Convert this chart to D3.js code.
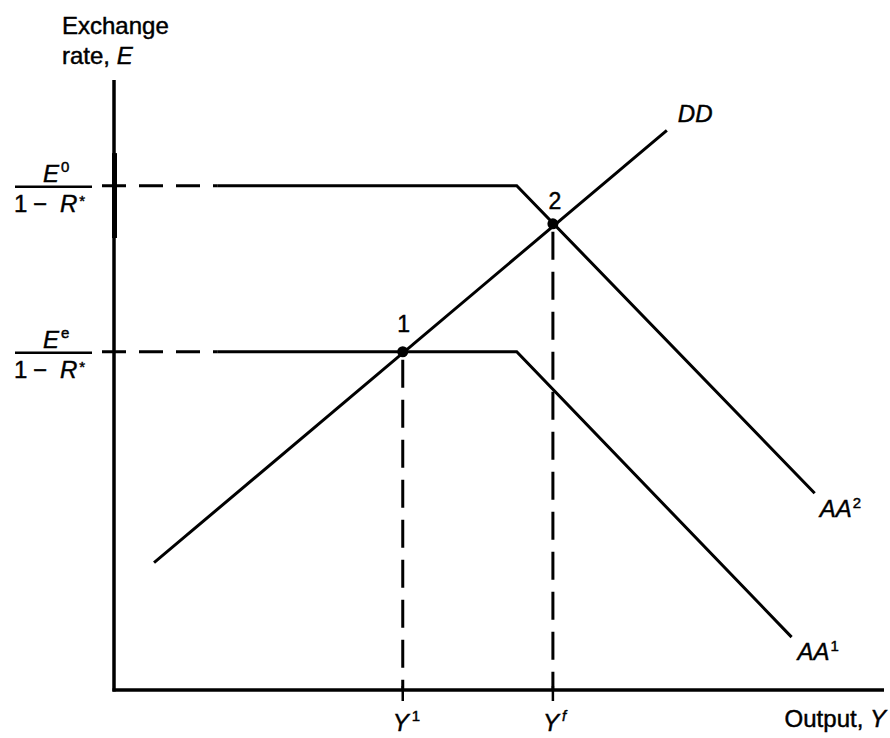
<!DOCTYPE html>
<html><head><meta charset="utf-8">
<script src="https://cdn.jsdelivr.net/npm/d3@7"></script>
<style>body{margin:0;background:#fff}svg{display:block}text{font-family:"Liberation Sans",Arial,sans-serif;fill:#000;stroke:#000;stroke-width:0.45px}</style>
</head><body>
<script>
// Data (abstract units: output on x, exchange rate on y)
const levels = [{name:"E0", sup:"0", value:82}, {name:"Ee", sup:"e", value:55}];
const outputMarks = [{name:"Y1", sup:"1", value:37.5}, {name:"Yf", sup:"f", value:57}];
const flatStart = 13.4;
const kinkX = 52.3;
const AA1 = [[flatStart,55],[kinkX,55],[88,8.6]];
const AA2 = [[flatStart,82],[kinkX,82],[91,32]];
const DD  = [[5.2,20.7],[71.8,91]];
const equilibria = [{label:"1", x:37.5, y:55, off:20}, {label:"2", x:57, y:75.8, off:15}];

const W=890,H=738, FS=24, SUP=15;
const x = d3.scaleLinear().domain([0,100]).range([114,884]);
const y = d3.scaleLinear().domain([0,100]).range([690,75]);

const svg = d3.select("body").append("svg").attr("width",W).attr("height",H);

// axes
svg.append("line").attr("x1",x(0)).attr("x2",x(0)).attr("y1",y(99.2)).attr("y2",y(0)+1.5)
  .attr("stroke","#000").attr("stroke-width",3.5);
svg.append("line").attr("x1",x(0)-1.5).attr("x2",x(100)).attr("y1",y(0)).attr("y2",y(0))
  .attr("stroke","#000").attr("stroke-width",3.5);
// thicker band on axis (as in the scan)
svg.append("line").attr("x1",x(0)+0.5).attr("x2",x(0)+0.5).attr("y1",y(87.3)).attr("y2",y(73.5))
  .attr("stroke","#000").attr("stroke-width",5);

const line = d3.line().x(d=>x(d[0])).y(d=>y(d[1]));

// dashed guide lines
levels.forEach(l=>{
  svg.append("line").attr("x1",102).attr("x2",x(flatStart)).attr("y1",y(l.value)).attr("y2",y(l.value))
    .attr("stroke","#000").attr("stroke-width",3).attr("stroke-dasharray","24,13");
});
equilibria.forEach(e=>{
  svg.append("line").attr("x1",x(e.x)).attr("x2",x(e.x)).attr("y1",y(e.y)+8).attr("y2",y(0))
    .attr("stroke","#000").attr("stroke-width",3).attr("stroke-dasharray","28,12");
});
outputMarks.forEach(m=>{
  svg.append("line").attr("x1",x(m.value)).attr("x2",x(m.value)).attr("y1",y(0)-4).attr("y2",y(0)+11)
    .attr("stroke","#000").attr("stroke-width",2.5);
});

// curves
[AA1,AA2,DD].forEach(c=>{
  svg.append("path").attr("d",line(c)).attr("fill","none").attr("stroke","#000").attr("stroke-width",3);
});

// points
equilibria.forEach(e=>{
  svg.append("circle").attr("cx",x(e.x)).attr("cy",y(e.y)).attr("r",5.5).attr("fill","#000");
  svg.append("text").attr("x",x(e.x)+(e.label==="2"?2:1)).attr("y",y(e.y)-e.off).attr("text-anchor","middle")
    .attr("font-size",FS-1).text(e.label);
});

// axis titles
const t1 = svg.append("text").attr("x",62).attr("y",34).attr("font-size",FS);
t1.append("tspan").text("Exchange");
const t2 = svg.append("text").attr("x",62).attr("y",64).attr("font-size",FS);
t2.append("tspan").text("rate, ");
t2.append("tspan").attr("font-style","italic").text("E");

const ot = svg.append("text").attr("x",886).attr("y",727).attr("text-anchor","end").attr("font-size",FS);
ot.append("tspan").text("Output, ");
ot.append("tspan").attr("font-style","italic").text("Y");

// curve labels
function supLabel(xp, yp, base, sup){
  const t = svg.append("text").attr("x",xp).attr("y",yp).attr("font-size",FS);
  t.append("tspan").attr("font-style","italic").text(base);
  if(sup) t.append("tspan").attr("font-size",SUP).attr("dy",-9).attr("dx",1).text(sup);
  return t;
}
supLabel(x(AA1[2][0])+6, y(AA1[2][1])+23, "AA", "1");
supLabel(x(AA2[2][0])+5, y(AA2[2][1])+24, "AA", "2");
supLabel(x(DD[1][0])+11, y(DD[1][1])-8, "DD", null);

// x tick labels
outputMarks.forEach(m=>{
  const t = svg.append("text").attr("x",x(m.value)-10).attr("y",731).attr("font-size",FS);
  t.append("tspan").attr("font-style","italic").text("Y");
  t.append("tspan").attr("font-size",SUP).attr("dy",-10).attr("dx",3).attr("font-style",m.sup==="f"?"italic":"normal").text(m.sup);
});

// y fraction labels
levels.forEach(l=>{
  const cy = y(l.value);
  svg.append("line").attr("x1",15).attr("x2",92).attr("y1",cy+1).attr("y2",cy+1).attr("stroke","#000").attr("stroke-width",2.5);
  const n = svg.append("text").attr("x",43).attr("y",cy-4).attr("font-size",FS);
  n.append("tspan").attr("font-style","italic").text("E");
  n.append("tspan").attr("font-size",SUP).attr("dy",-10).attr("dx",2).text(l.sup);
  const d = svg.append("text").attr("y",cy+26).attr("font-size",FS);
  d.append("tspan").attr("x",14).text("1");
  d.append("tspan").attr("x",33).text("\u2212");
  d.append("tspan").attr("x",60).attr("font-style","italic").text("R");
  d.append("tspan").attr("font-size",SUP).attr("dy",-6).attr("dx",2).text("*");
});
</script>
</body></html>
